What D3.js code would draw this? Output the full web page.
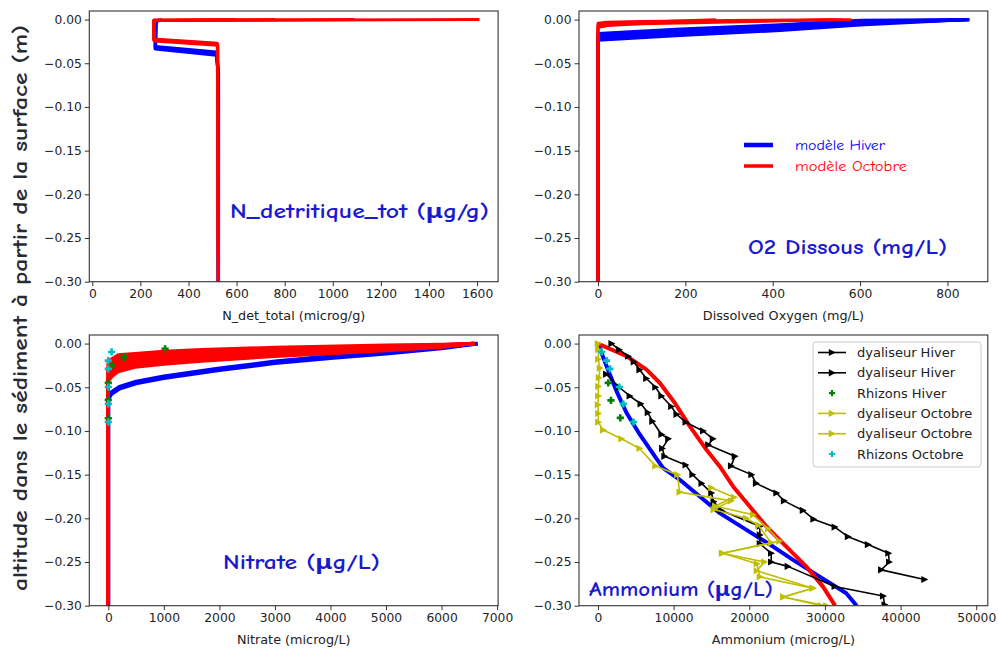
<!DOCTYPE html>
<html><head><meta charset="utf-8">
<script src="https://cdn.jsdelivr.net/npm/d3@7"></script>
<style>body{margin:0;background:#fff}svg{display:block}</style>
</head><body><svg id="c" width="998" height="649"></svg>
<script>
// ---------- tick labels ----------
const depthTicks = [0, -0.05, -0.10, -0.15, -0.20, -0.25, -0.30];
const ndetTicks = [0, 200, 400, 600, 800, 1000, 1200, 1400, 1600];
const o2Ticks = [0, 200, 400, 600, 800];
const no3Ticks = [0, 1000, 2000, 3000, 4000, 5000, 6000, 7000];
const nh4Ticks = [0, 10000, 20000, 30000, 40000, 50000];

// ---------- N_detritique model profiles [value, depth] ----------
const ndetHiver = [
  [[290, 0], [265, -0.002], [262, -0.031], [516, -0.0375], [524, -0.06], [524, -0.30]],
  [[280, 0], [265, -0.002], [262, -0.0335], [516, -0.0405], [524, -0.06], [524, -0.30]]
];
const ndetOctobre = [
  [[1610, 0], [257, -0.001], [257, -0.023], [520, -0.028], [524, -0.30]],
  [[1090, 0], [257, -0.001], [257, -0.0245], [522, -0.0295], [524, -0.30]],
  [[760, 0], [255, -0.001], [255, -0.0222], [520, -0.0272], [524, -0.30]],
  [[600, 0], [256, -0.0005], [256, -0.0235], [521, -0.0285], [524, -0.30]]
];

// ---------- O2 model profiles ----------
const o2Hiver = [
  [[850, 0], [600, -0.001], [417, -0.006], [188, -0.011], [0, -0.016], [0, -0.30]],
  [[850, 0], [600, -0.0022], [417, -0.0078], [188, -0.0128], [0, -0.018], [0, -0.30]],
  [[850, 0], [600, -0.0035], [417, -0.0095], [188, -0.0145], [0, -0.020], [0, -0.30]],
  [[845, 0], [600, -0.0048], [417, -0.011], [188, -0.0162], [0, -0.022], [0, -0.30]],
  [[840, 0], [600, -0.006], [417, -0.0125], [188, -0.018], [0, -0.0235], [0, -0.30]]
];
const o2Octobre = [
  [[580, 0], [300, -0.001], [100, -0.002], [20, -0.003], [0, -0.004], [0, -0.30]],
  [[560, 0], [300, -0.002], [100, -0.0035], [20, -0.005], [0, -0.006], [0, -0.30]],
  [[540, 0], [300, -0.003], [100, -0.005], [20, -0.007], [0, -0.008], [0, -0.30]],
  [[270, 0], [100, -0.003], [30, -0.006], [0, -0.009], [0, -0.30]]
];

// ---------- Nitrate model profiles ----------
const no3Hiver = [
  [[6650, 0], [6000, -0.004], [5000, -0.0095], [4000, -0.0145], [3000, -0.0205], [2000, -0.0285], [1000, -0.0375], [500, -0.0435], [200, -0.0495], [60, -0.0555], [0, -0.0615], [0, -0.30]],
  [[6650, 0], [6000, -0.0055], [5000, -0.0115], [4000, -0.0165], [3000, -0.0225], [2000, -0.0305], [1000, -0.0395], [500, -0.0455], [200, -0.0515], [60, -0.0575], [0, -0.0635], [0, -0.30]]
];
const no3Octobre = [
  [[6600, 0], [6000, -0.001], [5000, -0.002], [3000, -0.0045], [1680, -0.0069], [1000, -0.009], [480, -0.0115], [180, -0.013], [60, -0.018], [0, -0.020], [0, -0.30]],
  [[6600, 0], [6000, -0.0015], [5000, -0.003], [3000, -0.006], [1680, -0.009], [1000, -0.0115], [480, -0.014], [180, -0.016], [60, -0.021], [0, -0.024], [0, -0.30]],
  [[6600, 0], [6000, -0.002], [5000, -0.004], [3000, -0.008], [1680, -0.011], [1000, -0.0135], [480, -0.0165], [180, -0.019], [60, -0.024], [0, -0.028], [0, -0.30]],
  [[6590, 0], [6000, -0.0025], [5000, -0.005], [3000, -0.0095], [1680, -0.013], [1000, -0.016], [480, -0.019], [180, -0.022], [60, -0.0275], [0, -0.0315], [0, -0.30]],
  [[6580, 0], [6000, -0.003], [5000, -0.006], [3000, -0.011], [1680, -0.0155], [1000, -0.0185], [480, -0.022], [180, -0.0255], [60, -0.031], [0, -0.035], [0, -0.30]],
  [[6570, 0], [6000, -0.0035], [5000, -0.007], [3000, -0.0128], [1680, -0.0178], [1000, -0.021], [480, -0.0245], [180, -0.029], [60, -0.0345], [0, -0.039], [0, -0.30]],
  [[6550, 0], [6000, -0.004], [5000, -0.008], [3000, -0.0145], [1680, -0.020], [1000, -0.0235], [480, -0.027], [180, -0.032], [60, -0.038], [0, -0.043], [0, -0.30]]
];
const no3RhizonsHiver = [[1022, -0.006], [283, -0.0157], [73, -0.0248], [0, -0.045], [0, -0.0645], [0, -0.0855]];
const no3RhizonsOctobre = [[60, -0.0096], [0, -0.0195], [0, -0.029], [0, -0.0497], [0, -0.069], [0, -0.0898]];

// ---------- Ammonium ----------
const nh4Hiver = [[0, 0], [1144, -0.026], [2464, -0.0547], [3784, -0.0795], [5544, -0.1043], [7524, -0.1292], [8624, -0.1425], [10824, -0.1559], [13464, -0.175], [16104, -0.1941], [19624, -0.2132], [23144, -0.2323], [25784, -0.2476], [29304, -0.2667], [32824, -0.2858], [34200, -0.30]];
const nh4Octobre = [[0, 0], [3784, -0.0145], [6424, -0.0298], [8184, -0.0451], [10164, -0.068], [12144, -0.0948], [14344, -0.1215], [16104, -0.1406], [17864, -0.1635], [20064, -0.1865], [22264, -0.2094], [24904, -0.2323], [27544, -0.2553], [29744, -0.2782], [31350, -0.30]];
const dyaHiver1 = [[1800, 0], [2800, -0.007], [4000, -0.0145], [4750, -0.021], [5500, -0.030], [6400, -0.040], [7600, -0.050], [8400, -0.060], [9700, -0.072], [10400, -0.081], [11600, -0.090], [13900, -0.100], [15200, -0.109], [14600, -0.116], [18100, -0.129], [17600, -0.140], [20300, -0.150], [20900, -0.160], [23600, -0.171], [24600, -0.180], [27100, -0.191], [28500, -0.201], [31300, -0.210], [33050, -0.221], [35700, -0.230], [38400, -0.240], [38500, -0.250], [37450, -0.259], [43170, -0.270]];
const dyaHiver2 = [[1100, -0.035], [2800, -0.050], [4200, -0.060], [5650, -0.069], [6600, -0.079], [7200, -0.089], [8400, -0.104], [9300, -0.109], [8500, -0.120], [8800, -0.129], [11600, -0.139], [12500, -0.150], [13700, -0.160], [15000, -0.171], [15300, -0.181], [16300, -0.191], [21400, -0.209], [21400, -0.219], [21400, -0.229], [22900, -0.240], [22900, -0.250], [25100, -0.255], [31300, -0.278], [37700, -0.289], [37900, -0.299]];
const nh4RhizonsHiver = [[1360, -0.045], [1717, -0.065], [2950, -0.085]];
const dyaOctobre1 = [[0, 0], [44, -0.007], [44, -0.018], [264, -0.028], [132, -0.039], [44, -0.049], [44, -0.060], [0, -0.070], [44, -0.080], [44, -0.090], [700, -0.099], [3100, -0.109], [5500, -0.120], [7600, -0.140], [10500, -0.150], [10800, -0.170], [17600, -0.180], [15300, -0.190], [19600, -0.200], [21200, -0.208], [22900, -0.228], [16400, -0.240], [22000, -0.250], [21000, -0.260], [28400, -0.280], [24500, -0.290], [30200, -0.300]];
const dyaOctobre2 = [[15000, -0.165], [18000, -0.176], [15500, -0.186], [20500, -0.196], [22500, -0.212], [24000, -0.226], [16500, -0.240], [21000, -0.252], [21400, -0.267], [28400, -0.280], [24500, -0.290], [29500, -0.300]];
const nh4RhizonsOctobre = [[480, -0.0096], [1145, -0.0195], [1585, -0.029], [2816, -0.0497], [3344, -0.069], [4700, -0.0898]];

const legendLabels = ["dyaliseur Hiver", "dyaliseur Hiver", "Rhizons Hiver", "dyaliseur Octobre", "dyaliseur Octobre", "Rhizons Octobre"];

// ---------- drawing ----------
const BLUE = "#0000ff", RED = "#ff0000", BLACK = "#000", YEL = "#bfbf00", GREEN = "#008000", CYAN = "#00bfbf";
const TITLE = "#1a1acd";
const COMIC = "'Comic Sans MS','Comic Neue','Noto Sans',sans-serif";
const svg = d3.select("#c");
const W = 408.8, H = 270.7;
const yDomain = [-0.30, 0.0098];

function makePanel(id, x0, y0, xd, ticks, label) {
  const x = d3.scaleLinear().domain(xd).range([x0, x0 + W]);
  const y = d3.scaleLinear().domain(yDomain).range([y0 + H, y0]);
  svg.append("clipPath").attr("id", "clip" + id).append("rect")
    .attr("x", x0).attr("y", y0).attr("width", W).attr("height", H);
  const g = svg.append("g");
  const plot = g.append("g").attr("clip-path", "url(#clip" + id + ")");
  const ax = g.append("g").attr("transform", `translate(0,${y0 + H})`)
    .call(d3.axisBottom(x).tickValues(ticks).tickSize(4.5).tickSizeOuter(0).tickPadding(3).tickFormat(d3.format("d")));
  const ay = g.append("g").attr("transform", `translate(${x0},0)`)
    .call(d3.axisLeft(y).tickValues(depthTicks).tickSize(4.5).tickSizeOuter(0).tickPadding(3).tickFormat(d3.format(".2f")));
  [ax, ay].forEach(a => {
    a.select(".domain").remove();
    a.selectAll("line").attr("stroke", "#333").attr("stroke-width", 1);
    a.selectAll("text").attr("font-family", "DejaVu Sans").attr("font-size", 12.3).attr("fill", "#222");
  });
  g.append("rect").attr("x", x0).attr("y", y0).attr("width", W).attr("height", H)
    .attr("fill", "none").attr("stroke", "#333").attr("stroke-width", 1.1);
  g.append("text").attr("x", x0 + W / 2).attr("y", y0 + H + 34).attr("text-anchor", "middle")
    .attr("dominant-baseline", "central").attr("font-family", "DejaVu Sans").attr("font-size", 12.8)
    .attr("fill", "#222").text(label);
  return { x, y, plot, g };
}

function drawLines(p, profiles, color, width) {
  const line = d3.line().x(d => p.x(d[0])).y(d => p.y(d[1]));
  p.plot.selectAll(null).data(profiles).enter().append("path")
    .attr("d", line).attr("fill", "none").attr("stroke", color)
    .attr("stroke-width", width).attr("stroke-linejoin", "round").attr("stroke-linecap", "butt");
}
const triPath = "M-3.2,-3.6L3.8,0L-3.2,3.6Z";
const plusPath = "M-1.3,-3.6H1.3V-1.3H3.6V1.3H1.3V3.6H-1.3V1.3H-3.6V-1.3H-1.3Z";
function drawObs(p, data, color) {
  drawLines(p, [data], color, 1.6);
  p.plot.selectAll(null).data(data).enter().append("path")
    .attr("d", triPath).attr("fill", color)
    .attr("transform", d => `translate(${p.x(d[0])},${p.y(d[1])})`);
}
function drawPlus(p, data, color) {
  p.plot.selectAll(null).data(data).enter().append("path")
    .attr("d", plusPath).attr("fill", color)
    .attr("transform", d => `translate(${p.x(d[0])},${p.y(d[1])})`);
}
function title(p, txt, x, y, len) {
  p.g.append("text").attr("x", x).attr("y", y).attr("dominant-baseline", "central")
    .attr("font-family", COMIC).attr("font-weight", "bold").attr("font-size", 20)
    .attr("fill", TITLE).attr("textLength", len).attr("lengthAdjust", "spacingAndGlyphs").text(txt);
}

// Panel 1: N_detritique
const p1 = makePanel(1, 89.3, 11, [-12.5, 1687.5], ndetTicks, "N_det_total (microg/g)");
drawLines(p1, ndetHiver, BLUE, 3.5);
drawLines(p1, ndetOctobre, RED, 3);
title(p1, "N_detritique_tot (\u03bcg/g)", 230, 211, 259);

// Panel 2: O2
const p2 = makePanel(2, 579, 11, [-43.5, 892.4], o2Ticks, "Dissolved Oxygen (mg/L)");
drawLines(p2, o2Hiver, BLUE, 3.2);
drawLines(p2, o2Octobre, RED, 2.8);
title(p2, "O2 Dissous (mg/L)", 748, 247, 199);
const leg2 = [["mod\u00e8le Hiver", BLUE, 145, 4.5, 90], ["mod\u00e8le Octobre", RED, 166, 3.5, 112]];
leg2.forEach(([t, c, yy, sw, len]) => {
  p2.g.append("line").attr("x1", 744).attr("x2", 773).attr("y1", yy).attr("y2", yy)
    .attr("stroke", c).attr("stroke-width", sw);
  p2.g.append("text").attr("x", 795).attr("y", yy).attr("dominant-baseline", "central")
    .attr("font-family", COMIC).attr("font-size", 14).attr("fill", c)
    .attr("textLength", len).attr("lengthAdjust", "spacingAndGlyphs").text(t);
});

// Panel 3: Nitrate
const p3 = makePanel(3, 89.3, 335, [-342, 7018], no3Ticks, "Nitrate (microg/L)");
drawLines(p3, no3Hiver, BLUE, 3.8);
drawLines(p3, no3Octobre, RED, 3.4);
drawPlus(p3, no3RhizonsHiver, GREEN);
drawPlus(p3, no3RhizonsOctobre, CYAN);
title(p3, "Nitrate (\u03bcg/L)", 223, 562, 157);

// Panel 4: Ammonium
const p4 = makePanel(4, 579, 335, [-2508, 51532], nh4Ticks, "Ammonium (microg/L)");
drawLines(p4, [nh4Hiver], BLUE, 4);
drawLines(p4, [nh4Octobre], RED, 4);
drawObs(p4, dyaHiver1, BLACK);
drawObs(p4, dyaHiver2, BLACK);
drawPlus(p4, nh4RhizonsHiver, GREEN);
drawObs(p4, dyaOctobre1, YEL);
drawObs(p4, dyaOctobre2, YEL);
drawPlus(p4, nh4RhizonsOctobre, CYAN);
title(p4, "Ammonium (\u03bcg/L)", 589, 589, 184);

// legend (ammonium)
const lg = p4.g.append("g");
lg.append("rect").attr("x", 813).attr("y", 342).attr("width", 168).attr("height", 125).attr("rx", 3)
  .attr("fill", "#fff").attr("fill-opacity", 0.8).attr("stroke", "#ccc").attr("stroke-width", 1);
const legKinds = [[BLACK, "line"], [BLACK, "line"], [GREEN, "plus"], [YEL, "line"], [YEL, "line"], [CYAN, "plus"]];
legendLabels.forEach((t, i) => {
  const yy = 352.5 + i * 20.3;
  const [c, k] = legKinds[i];
  if (k === "line") {
    lg.append("line").attr("x1", 818).attr("x2", 846).attr("y1", yy).attr("y2", yy).attr("stroke", c).attr("stroke-width", 1.6);
    lg.append("path").attr("d", triPath).attr("fill", c).attr("transform", `translate(832,${yy})`);
  } else {
    lg.append("path").attr("d", plusPath).attr("fill", c).attr("transform", `translate(832,${yy}) scale(0.85)`);
  }
  lg.append("text").attr("x", 857).attr("y", yy).attr("dominant-baseline", "central")
    .attr("font-family", "DejaVu Sans").attr("font-size", 13).attr("fill", "#222").text(t);
});

// big y label
svg.append("text").attr("transform", "translate(20,308) rotate(-90)").attr("text-anchor", "middle")
  .attr("dominant-baseline", "central").attr("font-family", COMIC).attr("font-weight", "bold")
  .attr("font-size", 20).attr("fill", "#2a2a33").attr("textLength", 566).attr("lengthAdjust", "spacingAndGlyphs")
  .text("altitude dans le s\u00e9diment \u00e0 partir de la surface (m)");
</script></body></html>
